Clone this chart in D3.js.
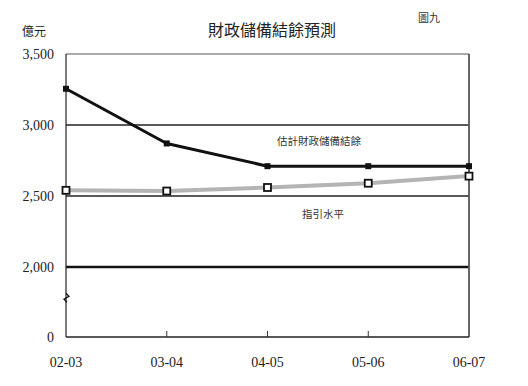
<!DOCTYPE html>
<html><head><meta charset="utf-8">
<script src="https://cdn.jsdelivr.net/npm/d3@7"></script>
<style>body{margin:0;background:#fff}svg{display:block}</style>
</head><body>
<script>
const categories = ["02-03","03-04","04-05","05-06","06-07"];
const reserves = [3255, 2870, 2710, 2710, 2710];
const guideline = [2540, 2535, 2560, 2590, 2640];
const yTicks = [0, 2000, 2500, 3000, 3500];
const yTickLabels = ["0","2,000","2,500","3,000","3,500"];

const W=528,H=386;
const svg=d3.select("body").append("svg").attr("width",W).attr("height",H);
const x=d3.scalePoint().domain(categories).range([66,469]);
const y=d3.scaleLinear().domain([0,2000,3500]).range([337,267,54]);
const serif="'Liberation Serif','DejaVu Serif',serif";
const sans="'Noto Sans CJK TC','Noto Sans CJK SC',sans-serif";

// gridlines
[[3000,"#222",1.3],[2500,"#222",1.3],[2000,"#111",2.3]].forEach(([v,c,w])=>{
  svg.append("line").attr("x1",66).attr("x2",469).attr("y1",y(v)).attr("y2",y(v)).attr("stroke",c).attr("stroke-width",w);
});
// top border
svg.append("line").attr("x1",66).attr("x2",469).attr("y1",y(3500)).attr("y2",y(3500)).attr("stroke","#555").attr("stroke-width",1.2);
// right border
svg.append("line").attr("x1",469).attr("x2",469).attr("y1",y(3500)).attr("y2",y(0)).attr("stroke","#555").attr("stroke-width",1.8);
// left axis
svg.append("line").attr("x1",66).attr("x2",66).attr("y1",y(3500)).attr("y2",y(0)).attr("stroke","#222").attr("stroke-width",1.2);
// bottom axis
svg.append("line").attr("x1",66).attr("x2",469).attr("y1",y(0)).attr("y2",y(0)).attr("stroke","#222").attr("stroke-width",1.5);
// x ticks
categories.slice(1,-1).forEach(c=>{
  svg.append("line").attr("x1",x(c)).attr("x2",x(c)).attr("y1",y(0)).attr("y2",y(0)-6).attr("stroke","#333").attr("stroke-width",1);
});
// break mark
svg.append("path").attr("d",`M66,${y(1250)} l3,3 l-5,3 l3,3`).attr("fill","none").attr("stroke","#111").attr("stroke-width",1.3);

// y labels
yTicks.forEach((v,i)=>{
  svg.append("text").attr("x",54).attr("y",y(v)+5).attr("text-anchor","end")
    .attr("font-family",serif).attr("font-size",14).attr("fill","#222").text(yTickLabels[i]);
});
// x labels
categories.forEach(c=>{
  svg.append("text").attr("x",x(c)).attr("y",367).attr("text-anchor","middle")
    .attr("font-family",serif).attr("font-size",14).attr("fill","#222").text(c);
});

const line=d3.line().x((d,i)=>x(categories[i])).y(d=>y(d));
svg.append("path").datum(guideline).attr("d",line).attr("fill","none").attr("stroke","#b4b4b4").attr("stroke-width",4).attr("stroke-linejoin","round");
svg.append("path").datum(reserves).attr("d",line).attr("fill","none").attr("stroke","#111").attr("stroke-width",3).attr("stroke-linejoin","round");

svg.selectAll(".g").data(guideline).enter().append("rect")
  .attr("x",(d,i)=>x(categories[i])-3.5).attr("y",d=>y(d)-3.5).attr("width",7).attr("height",7)
  .attr("fill","#fff").attr("stroke","#111").attr("stroke-width",1.8);
svg.selectAll(".r").data(reserves).enter().append("rect")
  .attr("x",(d,i)=>x(categories[i])-3).attr("y",d=>y(d)-3).attr("width",6).attr("height",6)
  .attr("fill","#111");

// texts
svg.append("text").attr("x",272).attr("y",36).attr("text-anchor","middle").attr("font-family",sans).attr("font-size",16).attr("fill","#222").text("財政儲備結餘預測");
svg.append("text").attr("x",22).attr("y",36).attr("font-family",sans).attr("font-size",12).attr("fill","#222").text("億元");
svg.append("text").attr("x",418).attr("y",22).attr("font-family",sans).attr("font-size",11).attr("fill","#333").text("圖九");
svg.append("text").attr("x",277).attr("y",145).attr("font-family",sans).attr("font-size",10.5).attr("fill","#333").text("估計財政儲備結餘");
svg.append("text").attr("x",302).attr("y",218).attr("font-family",sans).attr("font-size",10.5).attr("fill","#333").text("指引水平");
</script>
</body></html>
